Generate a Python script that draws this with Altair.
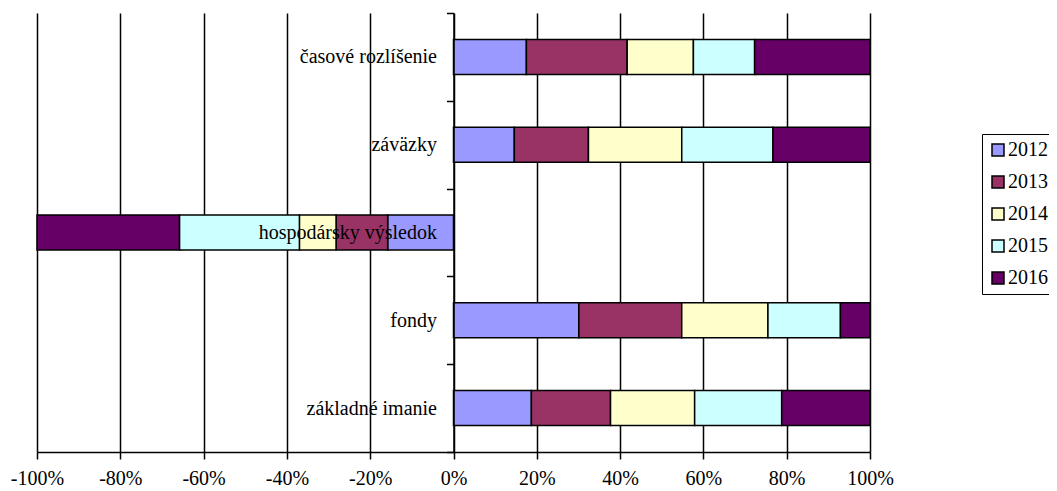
import altair as alt
import pandas as pd

categories = ["časové rozlíšenie", "záväzky", "hospodársky výsledok", "fondy", "základné imanie"]
years = ["2012", "2013", "2014", "2015", "2016"]
share_2012 = [17.5, 14.6, -15.8, 30.1, 18.7]
share_2013 = [24.2, 17.8, -12.4, 24.7, 19.0]
share_2014 = [15.9, 22.4, -8.8, 20.7, 20.2]
share_2015 = [14.7, 21.9, -28.8, 17.4, 20.9]
share_2016 = [27.7, 23.3, -34.2, 7.1, 21.2]
colors = ["#9999FF", "#993366", "#FFFFCC", "#CCFFFF", "#660066"]
x_ticks = [-1.0, -0.8, -0.6, -0.4, -0.2, 0.0, 0.2, 0.4, 0.6, 0.8, 1.0]

series = [share_2012, share_2013, share_2014, share_2015, share_2016]
rows = []
for yi, (yr, vals) in enumerate(zip(years, series)):
    for cat, v in zip(categories, vals):
        rows.append({"category": cat, "year": yr, "order": yi, "share": v / 100.0})
df = pd.DataFrame(rows)

FONT = "Liberation Serif"

chart = alt.Chart(df).mark_bar(size=35, stroke="black", strokeWidth=1.5).encode(
    x=alt.X(
        "share:Q",
        stack="zero",
        scale=alt.Scale(domain=[-1, 1], nice=False, zero=False, clamp=True),
        axis=alt.Axis(
            title=None,
            values=x_ticks,
            labelExpr="(datum.value < 0 ? '-' : '') + format(abs(datum.value), '.0%')",
            grid=True,
            gridColor="black",
            gridWidth=1.5,
            gridOpacity=1,
            domainColor="black",
            domainWidth=1.5,
            tickColor="black",
            tickWidth=1.5,
            tickSize=7,
            labelFont=FONT,
            labelFontSize=20,
            labelColor="black",
            labelPadding=9,
            labelFlush=False,
        ),
    ),
    y=alt.Y(
        "category:N",
        sort=categories,
        scale=alt.Scale(paddingInner=0, paddingOuter=0),
        axis=alt.Axis(
            title=None,
            offset=-416.5,
            tickBand="extent",
            tickSize=7,
            tickColor="black",
            tickWidth=1.5,
            domainColor="black",
            domainWidth=1.5,
            labelFont=FONT,
            labelFontSize=20,
            labelColor="black",
            labelPadding=10,
            labelLimit=0,
            grid=False,
            zindex=1,
        ),
    ),
    color=alt.Color(
        "year:N",
        scale=alt.Scale(domain=years, range=colors),
        legend=alt.Legend(
            title=None,
            orient="none",
            legendX=945,
            legendY=121,
            strokeColor="black",
            fillColor="white",
            padding=6,
            symbolType="square",
            symbolSize=144,
            symbolStrokeColor="black",
            symbolStrokeWidth=1.5,
            labelFont=FONT,
            labelFontSize=20,
            labelColor="black",
            labelOffset=0,
            rowPadding=12,
        ),
    ),
    order=alt.Order("order:Q"),
).properties(
    width=833,
    height=439,
    padding={"left": 29, "top": 5, "right": 179, "bottom": 39},
    autosize=alt.AutoSizeParams(type="none"),
).configure_view(stroke=None)

chart.save("out.html", embed_options={"renderer": "svg", "actions": False})
